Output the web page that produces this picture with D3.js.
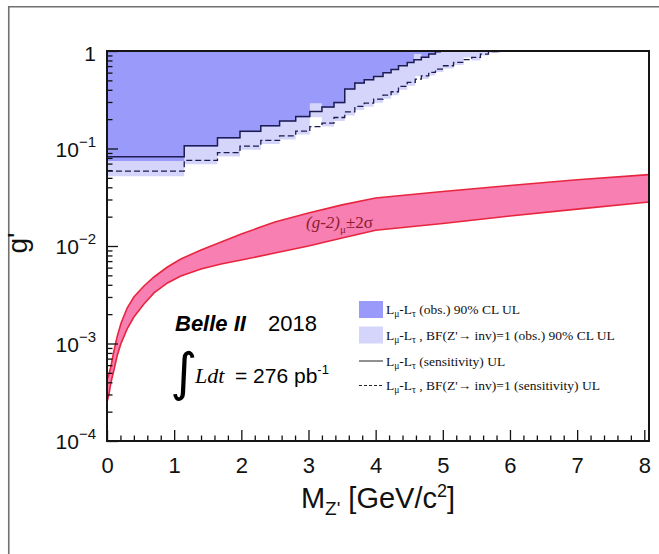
<!DOCTYPE html>
<html>
<head>
<meta charset="utf-8">
<script src="https://cdn.jsdelivr.net/npm/d3@7"></script>
<style>
body { margin: 0; background: #fff; }
</style>
</head>
<body>
<script>
// L_mu-L_tau sensitivity (solid line): bin edges in GeV and g' in each bin
var sensEdges = [0, 1.15, 1.645, 1.98, 2.29, 2.57, 2.81, 3.02, 3.2, 3.38, 3.54, 3.69, 3.83, 3.97, 4.11, 4.23, 4.34, 4.47, 4.57, 4.68, 4.79, 4.89, 4.96];
var sensVals  = [0.0825, 0.107, 0.129, 0.150, 0.171, 0.192, 0.213, 0.239, 0.267, 0.296, 0.407, 0.469, 0.507, 0.548, 0.598, 0.647, 0.706, 0.764, 0.814, 0.861, 0.93, 0.985];
// L_mu-L_tau observed 90% CL UL (dark fill), same bins
var obsVals   = [0.0745, 0.104, 0.126, 0.147, 0.168, 0.188, 0.208, 0.291, 0.262, 0.29, 0.40, 0.46, 0.50, 0.54, 0.59, 0.64, 0.70, 0.76, 0.93, 0.85, 0.92, 0.985];

// BF(Z'->inv)=1 sensitivity (dashed) and observed (light fill)
var invEdges   = [0, 1.15, 1.645, 1.98, 2.29, 2.57, 2.81, 3.02, 3.2, 3.38, 3.54, 3.69, 3.83, 3.97, 4.11, 4.23, 4.34, 4.47, 4.59, 4.68, 4.79, 4.89, 5.01, 5.16, 5.31, 5.43, 5.56, 5.68, 5.86];
var invSensVals = [0.0587, 0.0756, 0.0907, 0.106, 0.121, 0.135, 0.151, 0.168, 0.182, 0.208, 0.237, 0.270, 0.292, 0.321, 0.352, 0.382, 0.433, 0.476, 0.515, 0.557, 0.604, 0.653, 0.706, 0.764, 0.814, 0.861, 0.93, 0.985];
var invObsVals  = [0.052, 0.069, 0.083, 0.097, 0.111, 0.124, 0.139, 0.209, 0.168, 0.192, 0.218, 0.248, 0.268, 0.295, 0.324, 0.352, 0.40, 0.44, 0.55, 0.515, 0.56, 0.61, 0.66, 0.72, 0.86, 0.80, 0.90, 0.96];

// (g-2)_mu +-2 sigma band
var bandMass  = [0, 0.03, 0.06, 0.1, 0.15, 0.21, 0.3, 0.4, 0.55, 0.7, 0.9, 1.1, 1.4, 1.7, 2.0, 2.5, 3.0, 3.5, 4.0, 5.0, 6.0, 7.0, 8.07];
var bandUpper = [4.22e-4, 4.87e-4, 5.88e-4, 8.18e-4, 1.17e-3, 1.62e-3, 2.31e-3, 3.00e-3, 3.89e-3, 4.81e-3, 6.09e-3, 7.36e-3, 9.10e-3, 0.0110, 0.0133, 0.0176, 0.0218, 0.0264, 0.0311, 0.0362, 0.0418, 0.0478, 0.0540];
var bandLower = [2.51e-4, 3.03e-4, 4.03e-4, 5.22e-4, 7.45e-4, 1.01e-3, 1.41e-3, 1.87e-3, 2.54e-3, 3.30e-3, 4.18e-3, 4.92e-3, 5.81e-3, 6.53e-3, 7.18e-3, 8.47e-3, 0.0100, 0.0121, 0.0145, 0.0170, 0.0203, 0.0239, 0.0283];

var xTicks = [0, 1, 2, 3, 4, 5, 6, 7, 8];
var yTicks = [1e-4, 1e-3, 1e-2, 1e-1, 1];
var yTickLabels = ["10", "10", "10", "10", "1"];
var yTickExps = ["\u22124", "\u22123", "\u22122", "\u22121", ""];

var w = 659, h = 554;
var padL = 107, padR = 649, padT = 51, padB = 441;

var svg = d3.select("body").append("svg")
    .attr("width", w)
    .attr("height", h);

var x = d3.scaleLinear().domain([0, 8.07]).range([padL, padR]);
var y = d3.scaleLog().domain([1e-4, 1]).range([padB, padT]);

// outer canvas border (top + left only)
svg.append("path")
    .attr("d", "M8.75,554 L8.75,6.75 L659,6.75")
    .attr("fill", "none")
    .attr("stroke", "#707070")
    .attr("stroke-width", 1.6);

svg.append("clipPath").attr("id", "clip")
  .append("rect")
    .attr("x", padL).attr("y", padT)
    .attr("width", padR - padL).attr("height", padB - padT);

var plot = svg.append("g").attr("clip-path", "url(#clip)");

function steps(edges, vals) {
    var pts = vals.map(function(v, i) { return [edges[i], v]; });
    pts.push([edges[edges.length - 1], 1]);
    return pts;
}

var stepArea = d3.area()
    .curve(d3.curveStepAfter)
    .x(function(d) { return x(d[0]); })
    .y0(y(1))
    .y1(function(d) { return y(d[1]); });

var stepLine = d3.line()
    .curve(d3.curveStepAfter)
    .x(function(d) { return x(d[0]); })
    .y(function(d) { return y(d[1]); });

// light fill first, dark fill over it
plot.append("path")
    .attr("d", stepArea(steps(invEdges, invObsVals)))
    .attr("fill", "#d5d5fb");

plot.append("path")
    .attr("d", stepArea(steps(sensEdges, obsVals)))
    .attr("fill", "#9a9afa");

plot.append("path")
    .attr("d", stepLine(steps(sensEdges, sensVals)))
    .attr("fill", "none")
    .attr("stroke", "#1c1c50")
    .attr("stroke-width", 1.5);

plot.append("path")
    .attr("d", stepLine(steps(invEdges, invSensVals)))
    .attr("fill", "none")
    .attr("stroke", "#1c1c50")
    .attr("stroke-width", 1.3)
    .attr("stroke-dasharray", "6,3");

// g-2 band
var band = bandMass.map(function(m, i) { return [m, bandLower[i], bandUpper[i]]; });

plot.append("path")
    .datum(band)
    .attr("d", d3.area()
        .x(function(d) { return x(d[0]); })
        .y0(function(d) { return y(d[1]); })
        .y1(function(d) { return y(d[2]); }))
    .attr("fill", "#f77fb1");

[1, 2].forEach(function(k) {
    plot.append("path")
        .datum(band)
        .attr("d", d3.line()
            .x(function(d) { return x(d[0]); })
            .y(function(d) { return y(d[k]); }))
        .attr("fill", "none")
        .attr("stroke", "#e8253f")
        .attr("stroke-width", 1.6);
});

var bandLabel = svg.append("text")
    .attr("x", 306).attr("y", 228)
    .attr("font-family", "Liberation Serif, serif")
    .attr("font-size", 17)
    .attr("fill", "#8e1b2f");
bandLabel.append("tspan").attr("font-style", "italic").text("(g-2)");
bandLabel.append("tspan").attr("font-size", 11).attr("dy", 5).text("\u03bc");
bandLabel.append("tspan").attr("dy", -5).text("\u00b12\u03c3");

// axes, ROOT style ticks pointing inside
var xMinor = d3.range(0, 8.01, 0.2).filter(function(v) { return Math.abs(v - Math.round(v)) > 0.01; });
var xAxis = svg.append("g")
    .attr("transform", "translate(0," + padB + ")")
    .call(d3.axisBottom(x).tickValues(xTicks).tickSizeInner(-11).tickSizeOuter(0).tickPadding(16));
svg.append("g")
    .attr("transform", "translate(0," + padB + ")")
    .call(d3.axisBottom(x).tickValues(xMinor).tickSizeInner(-5.5).tickSizeOuter(0).tickFormat(""));

var yMinor = [];
[1e-4, 1e-3, 1e-2, 1e-1].forEach(function(d) {
    for (var k = 2; k <= 9; k++) yMinor.push(d * k);
});
svg.append("g")
    .attr("transform", "translate(" + padL + ",0)")
    .call(d3.axisLeft(y).tickValues(yTicks).tickSizeInner(-11).tickSizeOuter(0).tickFormat(""));
svg.append("g")
    .attr("transform", "translate(" + padL + ",0)")
    .call(d3.axisLeft(y).tickValues(yMinor).tickSizeInner(-5.5).tickSizeOuter(0).tickFormat(""));

svg.selectAll(".domain").remove();
svg.selectAll(".tick line").attr("stroke", "#111").attr("stroke-width", 1.3);

xAxis.selectAll("text")
    .attr("font-family", "Liberation Sans, Arial, sans-serif")
    .attr("font-size", 22)
    .attr("fill", "#111");

yTicks.forEach(function(v, i) {
    var t = svg.append("text")
        .attr("x", 96)
        .attr("y", y(v) + (yTickExps[i] ? 8 : 10))
        .attr("text-anchor", "end")
        .attr("font-family", "Liberation Sans, Arial, sans-serif")
        .attr("font-size", 21)
        .attr("fill", "#111");
    t.append("tspan").text(yTickLabels[i]);
    if (yTickExps[i]) {
        t.append("tspan").attr("font-size", 15).attr("dy", -10).text(yTickExps[i]);
    }
});

// frame
svg.append("rect")
    .attr("x", padL).attr("y", padT)
    .attr("width", padR - padL).attr("height", padB - padT)
    .attr("fill", "none")
    .attr("stroke", "#151515")
    .attr("stroke-width", 2);

// axis titles
var xt = svg.append("text")
    .attr("x", 378).attr("y", 508)
    .attr("text-anchor", "middle")
    .attr("font-family", "Liberation Sans, Arial, sans-serif")
    .attr("font-size", 29)
    .attr("fill", "#111");
xt.append("tspan").text("M");
xt.append("tspan").attr("font-size", 19).attr("dy", 7).text("Z'");
xt.append("tspan").attr("dy", -7).text(" [GeV/c");
xt.append("tspan").attr("font-size", 18).attr("dy", -11).text("2");
xt.append("tspan").attr("dy", 11).text("]");

svg.append("text")
    .attr("transform", "translate(27,243) rotate(-90)")
    .attr("text-anchor", "middle")
    .attr("font-family", "Liberation Sans, Arial, sans-serif")
    .attr("font-size", 28)
    .attr("fill", "#111")
    .text("g'");

// Belle II label
svg.append("text")
    .attr("x", 175).attr("y", 331)
    .attr("font-family", "Liberation Sans, Arial, sans-serif")
    .attr("font-size", 22).attr("font-weight", "bold").attr("font-style", "italic")
    .text("Belle II");
svg.append("text")
    .attr("x", 268).attr("y", 331)
    .attr("font-family", "Liberation Sans, Arial, sans-serif")
    .attr("font-size", 22)
    .text("2018");
svg.append("text")
    .attr("x", 170).attr("y", 390)
    .attr("font-family", "DejaVu Sans, sans-serif")
    .attr("font-size", 52)
    .text("\u222b");
svg.append("text")
    .attr("x", 195).attr("y", 383)
    .attr("font-family", "Liberation Serif, serif")
    .attr("font-size", 22).attr("font-style", "italic")
    .text("Ldt");
var lum = svg.append("text")
    .attr("x", 235).attr("y", 383)
    .attr("font-family", "Liberation Sans, Arial, sans-serif")
    .attr("font-size", 21);
lum.append("tspan").text("= 276 pb");
lum.append("tspan").attr("font-size", 13).attr("dy", -9).text("-1");

// legend
var legendRows = [
    {kind: "box", color: "#9a9afa", rest: " (obs.) 90% CL UL"},
    {kind: "box", color: "#d5d5fb", rest: " , BF(Z'\u2192 inv)=1 (obs.) 90% CL UL"},
    {kind: "line", dash: null, rest: " (sensitivity) UL"},
    {kind: "line", dash: "3,2", rest: " , BF(Z'\u2192 inv)=1 (sensitivity) UL"}
];
var legendY = [309.5, 335, 361, 385.5];

legendRows.forEach(function(r, i) {
    var cy = legendY[i];
    if (r.kind === "box") {
        svg.append("rect")
            .attr("x", 359).attr("y", cy - 8.5)
            .attr("width", 24).attr("height", 17)
            .attr("fill", r.color);
    } else {
        svg.append("line")
            .attr("x1", 359).attr("x2", 383)
            .attr("y1", cy).attr("y2", cy)
            .attr("stroke", "#222")
            .attr("stroke-width", 1)
            .attr("stroke-dasharray", r.dash);
    }
    var t = svg.append("text")
        .attr("x", 386).attr("y", cy + 4.5)
        .attr("font-family", "Liberation Serif, serif")
        .attr("font-size", 13.5)
        .attr("fill", "#111");
    t.append("tspan").text("L");
    t.append("tspan").attr("font-size", 9.5).attr("dy", 3).text("\u03bc");
    t.append("tspan").attr("dy", -3).text("-L");
    t.append("tspan").attr("font-size", 9.5).attr("dy", 3).text("\u03c4");
    t.append("tspan").attr("dy", -3).text(r.rest);
});
</script>
</body>
</html>
